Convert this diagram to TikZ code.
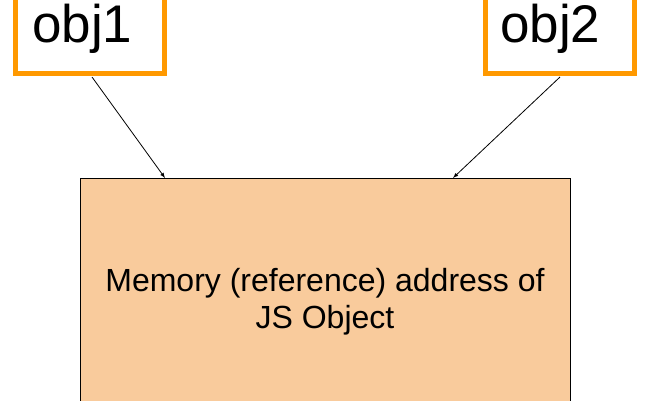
\documentclass[tikz,border=0pt]{standalone}
\usepackage{fontspec}
\setmainfont{Liberation Sans}
\begin{document}
\begin{tikzpicture}[x=1pt,y=1pt,
  obj/.style={draw={rgb,255:red,255;green,153;blue,0},line width=5pt,fill=white,minimum width=149pt,minimum height=100pt,inner sep=0pt},
  lbl/.style={font=\fontsize{53}{53}\selectfont,anchor=base west,inner sep=0pt},
  arr/.style={-latex,line width=0.8pt}]
\useasboundingbox (0,0) rectangle (650,400);
\node[obj] (o1) at (90,376.5) {};
\node[lbl] (t1) at (32,357) {obj1};
\node[obj] (o2) at (559.5,376.5) {};
\node[lbl] (t2) at (500,357) {obj2};
\node[draw=black,line width=0.8pt,fill={rgb,255:red,249;green,203;blue,156},minimum width=490pt,minimum height=260pt,inner sep=0pt] (m) at (325,92) {};
\node[font=\fontsize{32}{37}\selectfont,align=center] (mt) at (325,98) {Memory (reference) address of\\JS Object};
\coordinate (a1) at (92,323);
\coordinate (b1) at (165,222);
\coordinate (a2) at (560,323);
\coordinate (b2) at (453,222);
\draw[arr] (a1) -- (b1);
\draw[arr] (a2) -- (b2);
\end{tikzpicture}
\end{document}
